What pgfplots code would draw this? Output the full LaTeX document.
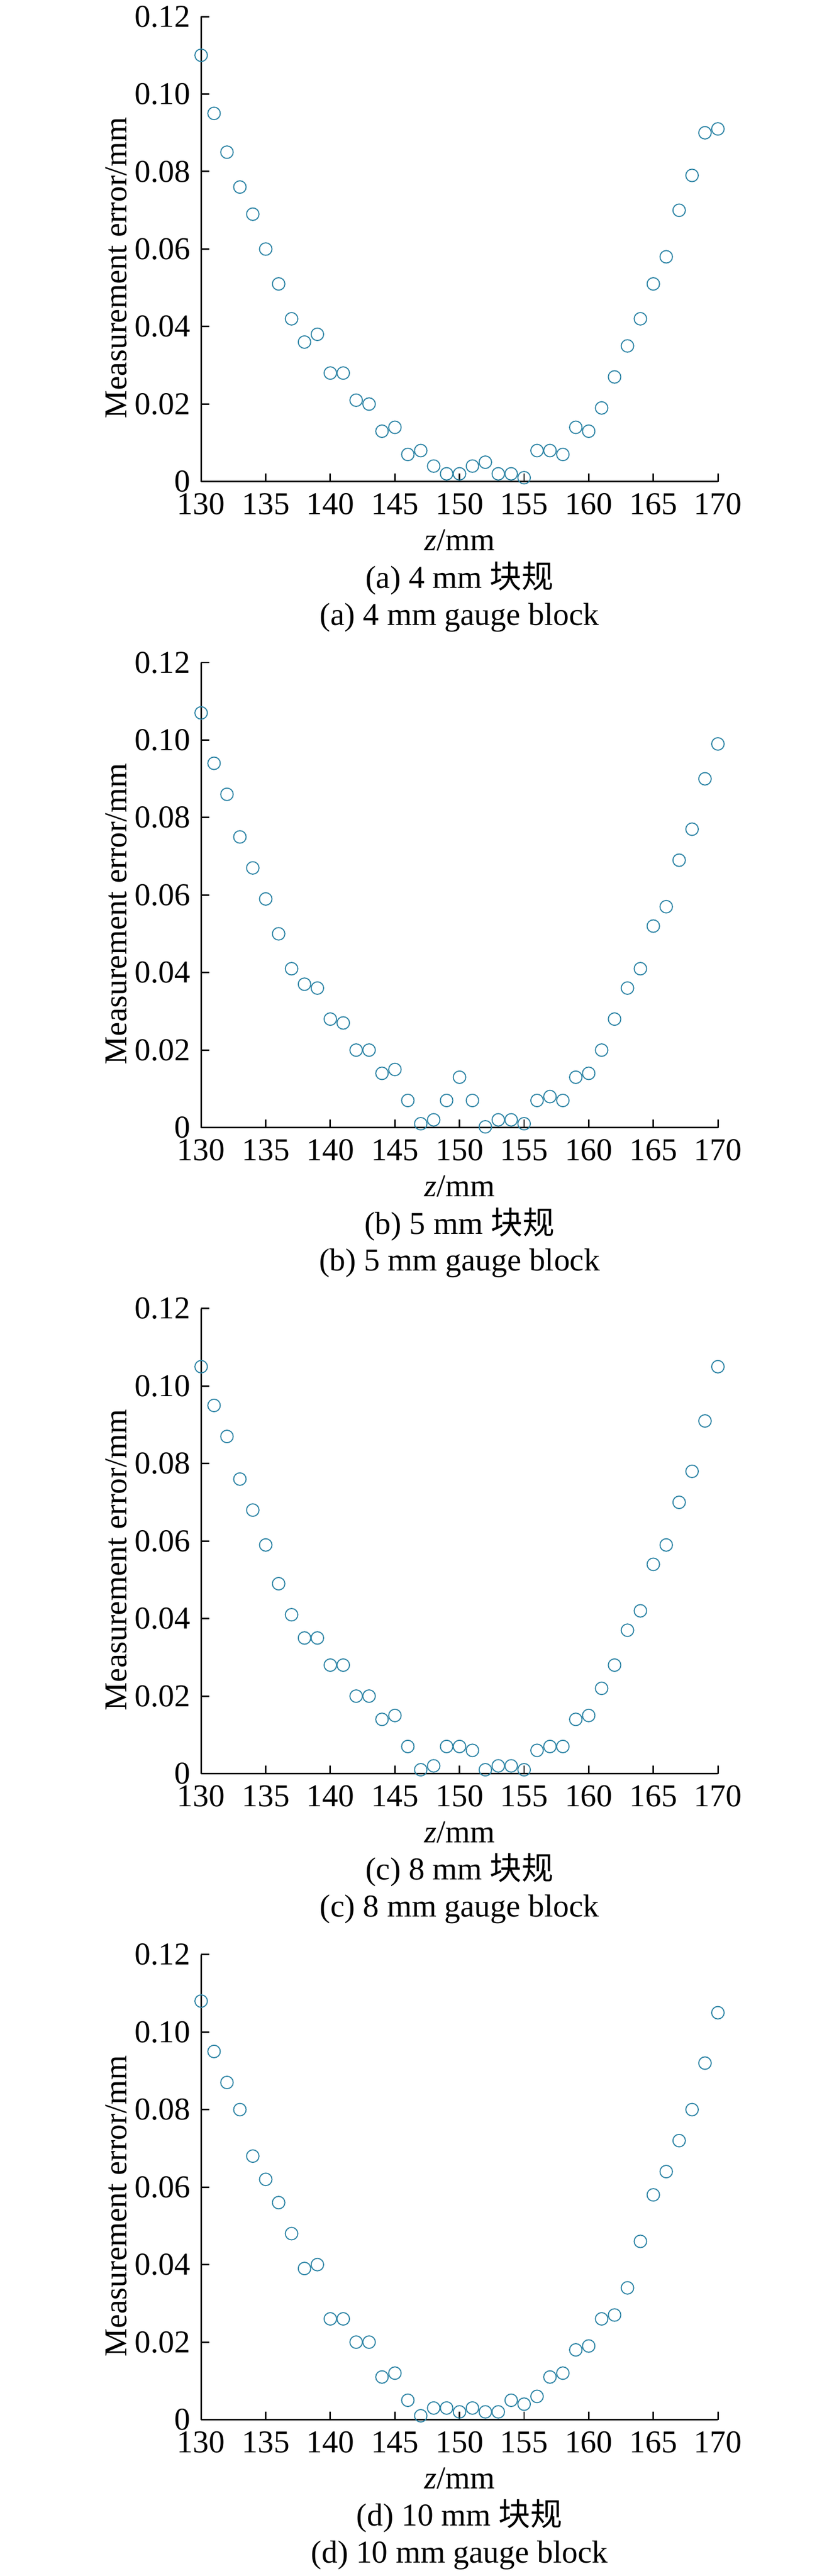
\documentclass[border=0pt]{standalone}
\usepackage{fontspec}
\setmainfont{Liberation Serif}
\newfontfamily\cjk{Noto Sans CJK SC}
\usepackage{pgfplots}
\pgfplotsset{compat=1.18}
\definecolor{mk}{RGB}{45,132,165}
\newcommand\fs{\fontsize{16.8}{20}\selectfont}
\pgfplotsset{panel/.style={
  scale only axis, width=279.825pt, height=245.75pt,
  xmin=130, xmax=171, ymin=0, ymax=0.12,
  axis x line*=bottom, axis y line*=left,
  axis line style={line width=0.8pt, -},
  x axis line style={shorten >=6.825pt},
  xtick={130,135,...,170}, xticklabels={130,135,140,145,150,155,160,165,170},
  ytick={0,0.02,0.04,0.06,0.08,0.10,0.12},
  yticklabels={0,0.02,0.04,0.06,0.08,0.10,0.12},
  tick align=inside, major tick length=4.2pt,
  tick style={line width=0.8pt, black},
  xticklabel style={font=\fs, anchor=north, inner sep=0pt, yshift=-6pt},
  yticklabel style={font=\fs, anchor=east, inner sep=0pt, xshift=-5.5pt},
  xlabel={\textit{z}/mm},
  xlabel style={font=\fs, at={(axis description cs:0.4878,-0.1261)}, anchor=center},
  ylabel={Measurement error/mm},
  ylabel style={font=\fs, at={(axis description cs:-0.1599,0.4593)}, anchor=center, rotate=0},
  anchor=south west,
}}
\pgfplotsset{pts/.style={only marks, mark=o, mark size=3.3pt, mk, mark options={line width=0.55pt}}}
\begin{document}
\fs
\begin{tikzpicture}
\path[use as bounding box] (0,0) rectangle (443pt,1361.25pt);
% (a)
\begin{axis}[panel, at={(106.25pt,1106.75pt)}, name=a]
\addplot[pts] coordinates {
(130,0.110)(131,0.095)(132,0.085)(133,0.076)(134,0.069)(135,0.060)(136,0.051)(137,0.042)(138,0.036)(139,0.038)
(140,0.028)(141,0.028)(142,0.021)(143,0.020)(144,0.013)(145,0.014)(146,0.007)(147,0.008)(148,0.004)(149,0.002)
(150,0.002)(151,0.004)(152,0.005)(153,0.002)(154,0.002)(155,0.001)(156,0.008)(157,0.008)(158,0.007)(159,0.014)
(160,0.013)(161,0.019)(162,0.027)(163,0.035)(164,0.042)(165,0.051)(166,0.058)(167,0.070)(168,0.079)(169,0.090)(170,0.091)};
\end{axis}
\node[font=\fs, xshift=-3.41pt, yshift=-51pt] at (a.south) {(a) 4 mm {\cjk 块规}};
\node[font=\fs, xshift=-3.41pt, yshift=-71.75pt] at (a.south) {(a) 4 mm gauge block};
% (b)
\begin{axis}[panel, at={(106.25pt,765.375pt)}, name=b]
\addplot[pts] coordinates {
(130,0.107)(131,0.094)(132,0.086)(133,0.075)(134,0.067)(135,0.059)(136,0.050)(137,0.041)(138,0.037)(139,0.036)
(140,0.028)(141,0.027)(142,0.020)(143,0.020)(144,0.014)(145,0.015)(146,0.007)(147,0.001)(148,0.002)(149,0.007)
(150,0.013)(151,0.007)(152,0.0002)(153,0.002)(154,0.002)(155,0.001)(156,0.007)(157,0.008)(158,0.007)(159,0.013)
(160,0.014)(161,0.020)(162,0.028)(163,0.036)(164,0.041)(165,0.052)(166,0.057)(167,0.069)(168,0.077)(169,0.090)(170,0.099)};
\end{axis}
\node[font=\fs, xshift=-3.41pt, yshift=-51pt] at (b.south) {(b) 5 mm {\cjk 块规}};
\node[font=\fs, xshift=-3.41pt, yshift=-71.75pt] at (b.south) {(b) 5 mm gauge block};
% (c)
\begin{axis}[panel, at={(106.25pt,424pt)}, name=c]
\addplot[pts] coordinates {
(130,0.105)(131,0.095)(132,0.087)(133,0.076)(134,0.068)(135,0.059)(136,0.049)(137,0.041)(138,0.035)(139,0.035)
(140,0.028)(141,0.028)(142,0.020)(143,0.020)(144,0.014)(145,0.015)(146,0.007)(147,0.001)(148,0.002)(149,0.007)
(150,0.007)(151,0.006)(152,0.001)(153,0.002)(154,0.002)(155,0.001)(156,0.006)(157,0.007)(158,0.007)(159,0.014)
(160,0.015)(161,0.022)(162,0.028)(163,0.037)(164,0.042)(165,0.054)(166,0.059)(167,0.070)(168,0.078)(169,0.091)(170,0.105)};
\end{axis}
\node[font=\fs, xshift=-3.41pt, yshift=-51pt] at (c.south) {(c) 8 mm {\cjk 块规}};
\node[font=\fs, xshift=-3.41pt, yshift=-71.75pt] at (c.south) {(c) 8 mm gauge block};
% (d)
\begin{axis}[panel, at={(106.25pt,82.625pt)}, name=d]
\addplot[pts] coordinates {
(130,0.108)(131,0.095)(132,0.087)(133,0.080)(134,0.068)(135,0.062)(136,0.056)(137,0.048)(138,0.039)(139,0.040)
(140,0.026)(141,0.026)(142,0.020)(143,0.020)(144,0.011)(145,0.012)(146,0.005)(147,0.001)(148,0.003)(149,0.003)
(150,0.002)(151,0.003)(152,0.002)(153,0.002)(154,0.005)(155,0.004)(156,0.006)(157,0.011)(158,0.012)(159,0.018)
(160,0.019)(161,0.026)(162,0.027)(163,0.034)(164,0.046)(165,0.058)(166,0.064)(167,0.072)(168,0.080)(169,0.092)(170,0.105)};
\end{axis}
\node[font=\fs, xshift=-3.41pt, yshift=-51pt] at (d.south) {(d) 10 mm {\cjk 块规}};
\node[font=\fs, xshift=-3.41pt, yshift=-71.75pt] at (d.south) {(d) 10 mm gauge block};
\end{tikzpicture}
\end{document}
